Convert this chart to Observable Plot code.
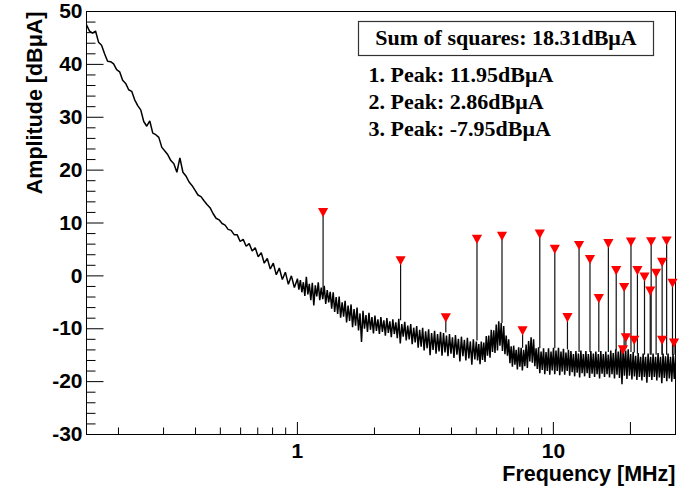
<!DOCTYPE html>
<html>
<head>
<meta charset="utf-8">
<script src="https://cdn.jsdelivr.net/npm/d3@7"></script>
<script src="https://cdn.jsdelivr.net/npm/@observablehq/plot@0.6"></script>
<style>
html, body { margin: 0; padding: 0; background: #fff; }
#chart { width: 688px; height: 487px; overflow: hidden; }
</style>
</head>
<body>
<div id="chart"></div>
<script>
// ---- Data ----
// Segment boundaries of the spectrum trace (MHz)
const segBounds = [0.15, 1, 5, 30];
// Spectrum amplitude (dBuA), 0.15 - 1 MHz
const segLowValues = [
  47.5, 46.3, 45.9, 46.3, 44.2, 43.6, 42.0, 40.6, 40.5, 40.1,
  39.0, 38.6, 37.0, 36.4, 35.2, 34.9, 33.3, 32.2, 31.4, 29.2,
  28.3, 29.3, 27.0, 26.7, 26.2, 24.3, 23.6, 22.9, 21.8, 21.2,
  19.6, 22.3, 19.6, 18.9, 17.8, 17.1, 16.2, 15.3, 15.0, 14.2,
  13.5, 12.9, 11.8, 10.9, 10.6, 9.9, 9.6, 8.8, 8.6, 7.8,
  7.8, 6.5, 6.9, 5.6, 6.1, 4.7, 5.3, 3.6, 4.4, 2.4,
  3.3, 1.3, 2.4, 0.2, 1.5, -0.7, 0.7, -1.6, 0.0, -2.2,
  -0.6
];
// Spectrum amplitude (dBuA), 1 - 5 MHz
const segMidValues = [
  -0.5, -2.6, -0.8, -3.1, -1.2, -3.8, -0.2, -3.5, -1.5, -4.6,
  -1.3, -5.6, -1.8, -3.9, -1.2, -4.6, -2.2, -4.4, -1.9, -5.3,
  -2.7, -5.0, -3.0, -6.2, -3.1, -6.8, -4.0, -7.2, -3.9, -7.9,
  -5.0, -7.7, -4.7, -8.8, -5.6, -8.5, -5.4, -9.7, -6.3, -9.4,
  -6.0, -10.3, -7.1, -12.5, -6.6, -10.0, -7.4, -10.6, -7.0, -10.2,
  -7.8, -10.9, -7.5, -10.4, -8.2, -11.0, -7.8, -10.6, -8.4, -11.3,
  -8.0, -10.8, -8.6, -11.6, -8.2, -11.0, -8.8, -11.8, -8.1, -12.8,
  -9.1, -11.5, -8.7, -12.2, -9.4, -12.0, -9.1, -12.9, -9.8, -12.6,
  -9.5, -13.6, -10.2, -13.4, -9.8, -14.1, -10.5, -13.7, -10.1, -15.0,
  -10.8, -14.0, -10.4, -14.7, -11.0, -14.3, -10.6, -15.1, -10.8, -14.5,
  -11.3, -15.2, -11.0, -14.7, -11.6, -15.5, -11.2, -14.9, -11.9, -16.2,
  -11.5, -15.2, -12.1, -16.0, -11.7, -15.6, -12.4, -16.8, -12.0, -15.8,
  -12.4
];
// Spectrum amplitude (dBuA), 5 - 30 MHz
const segHighValues = [
  -12.4, -16.0, -12.9, -16.7, -12.4, -15.9, -12.6, -16.3, -11.4, -15.1,
  -11.3, -15.5, -10.2, -14.4, -10.3, -14.6, -9.2, -14.1, -8.6, -13.2,
  -8.9, -14.2, -9.5, -14.8, -11.3, -15.1, -12.0, -16.5, -13.3, -17.2,
  -13.2, -16.8, -14.0, -17.7, -13.5, -17.2, -13.6, -17.9, -14.0, -17.1,
  -13.0, -17.4, -12.3, -16.2, -11.6, -16.4, -12.0, -17.1, -13.7, -17.6,
  -13.5, -18.4, -14.3, -17.8, -13.7, -18.6, -14.4, -18.0, -13.7, -18.7,
  -14.3, -17.9, -13.6, -18.6, -14.1, -18.0, -13.6, -18.8, -14.3, -18.1,
  -13.8, -18.7, -14.5, -18.0, -14.0, -18.9, -14.2, -18.2, -14.8, -19.0,
  -14.2, -18.3, -14.7, -19.2, -14.1, -18.4, -14.8, -19.0, -14.2, -18.4,
  -14.8, -19.3, -14.2, -18.5, -14.7, -19.1, -14.3, -18.6, -14.8, -19.4,
  -14.2, -18.5, -14.8, -19.1, -14.3, -18.6, -14.9, -19.2, -14.1, -18.6,
  -14.6, -19.4, -13.9, -18.7, -14.3, -19.3, -13.6, -20.5, -13.5, -18.9,
  -14.1, -19.5, -13.9, -18.9, -14.8, -19.6, -14.4, -19.0, -15.1, -19.7,
  -14.6, -19.1, -15.3, -19.8, -14.7, -19.1, -15.3, -20.2, -14.7, -19.1,
  -15.3, -19.7, -14.7, -19.1, -15.3, -19.8, -14.6, -19.2, -15.3, -20.3,
  -14.7, -19.3, -15.2, -19.9, -14.7, -19.4, -15.3, -20.0, -14.8, -19.5,
  -15.2
];

// Peaks found (frequency MHz, amplitude dBuA, noise floor at the peak)
const peakFreq = [1.26, 2.53, 3.8, 5.03, 6.3, 7.58, 8.85, 10.13, 11.35, 12.6,
                  13.9, 15.05, 16.4, 17.6, 18.7, 18.9, 19.2, 20.1, 20.7, 21.3,
                  22.7, 23.9, 24.1, 25.2, 26.6, 26.6, 27.7, 29.2, 29.6];
const peakAmp  = [11.95, 2.86, -7.95, 6.9, 7.5, -10.4, 7.9, 5.0, -7.9, 5.75,
                  3.1, -4.3, 6.1, 1.0, -14.0, -2.2, -11.7, 6.4, -12.2, 1.0,
                  -0.25, -2.9, 6.45, 0.5, 2.55, -12.2, 6.6, -1.4, -12.7];
const peakBase = [-2.8, -8.5, -10.8, -12.3, -9.0, -13.7, -13.8, -13.8, -14.0, -14.5,
                  -14.5, -14.5, -14.5, -14.2, -13.8, -13.8, -13.8, -14.5, -14.6, -14.8,
                  -15, -15, -15, -15, -15, -15, -15, -15, -15];

// Legend values
const sumOfSquares = 18.31;
const legendPeaks = [11.95, 2.86, -7.95];

// Axis ticks
const yMajor = [-30, -20, -10, 0, 10, 20, 30, 40, 50];
const yMinor = [-28, -26, -24, -22, -18, -16, -14, -12, -8, -6, -4, -2,
                2, 4, 6, 8, 12, 14, 16, 18, 22, 24, 26, 28, 32, 34, 36, 38, 42, 44, 46, 48];
const xMajor = [1, 10, 20];
const xMinor = [0.2, 0.3, 0.4, 0.5, 0.6, 0.7, 0.8, 0.9, 2, 3, 4, 5, 6, 7, 8, 9, 30];
const xLabels = [1, 10];

// ---- Build tables ----
function logGrid(from, to, n) {
  return d3.range(n).map(i => from * Math.pow(to / from, i / (n - 1)));
}
const segs = [segLowValues, segMidValues, segHighValues];
const trace = [];
segs.forEach((vals, s) => {
  const fs = logGrid(segBounds[s], segBounds[s + 1], vals.length);
  vals.forEach((a, i) => trace.push({f: fs[i], a}));
});
const peaks = peakFreq.map((f, i) => ({f, a: peakAmp[i], base: peakBase[i]}));
const legendLines = legendPeaks.map((v, i) => `${i + 1}. Peak: ${v.toFixed(2)}dBμA`);

const triangleDown = {
  draw(context, size) {
    const k = Math.sqrt(size / Math.PI);
    context.moveTo(-k, -0.9 * k);
    context.lineTo(k, -0.9 * k);
    context.lineTo(0, 0.9 * k);
    context.closePath();
  }
};

const sans = "'Liberation Sans', Arial, Helvetica, sans-serif";
const serif = "'Liberation Serif', 'Times New Roman', serif";

const chart = Plot.plot({
  width: 688,
  height: 487,
  marginLeft: 86,
  marginRight: 13,
  marginTop: 11,
  marginBottom: 53,
  style: {fontFamily: sans, background: "#fff", color: "#000"},
  x: {type: "log", domain: [0.15, 30]},
  y: {domain: [-30, 50]},
  marks: [
    Plot.line(trace, {x: "f", y: "a", stroke: "#000", strokeWidth: 1.5, strokeLinejoin: "miter", clip: true}),
    Plot.ruleX(peaks, {x: "f", y1: "base", y2: "a", stroke: "#111", strokeWidth: 1.2}),
    Plot.axisY(yMajor, {tickSize: 17.5, dx: 17.5, fill: "none", label: null}),
    Plot.axisY(yMinor, {tickSize: 9.5, dx: 9.5, fill: "none", label: null}),
    Plot.axisY(yMajor, {tickSize: 0, tickPadding: 4, fontSize: 21, fontWeight: "bold",
      tickFormat: d => String(d), label: null}),
    Plot.axisX(xMajor, {tickSize: 12, dy: -12, fill: "none", label: null}),
    Plot.axisX(xMinor, {tickSize: 6.5, dy: -6.5, fill: "none", label: null}),
    Plot.axisX(xLabels, {tickSize: 0, tickPadding: 9, fontSize: 21, fontWeight: "bold",
      tickFormat: d => String(d), label: null}),
    Plot.frame({stroke: "#000"}),
    Plot.dot(peaks, {x: "f", y: "a", symbol: triangleDown, r: 5.1, fill: "#ff0000", stroke: "none"}),
    Plot.text(["Frequency [MHz]"], {text: d => d, frameAnchor: "bottom-right", dy: 46,
      textAnchor: "end", lineAnchor: "bottom", fontSize: 21.5, fontWeight: "bold"}),
    Plot.text(["Amplitude [dBμA]"], {text: d => d, frameAnchor: "top-left", dx: -44.5, dy: 0,
      rotate: -90, textAnchor: "end", lineAnchor: "bottom", fontSize: 21.5, fontWeight: "bold"}),
    Plot.frame({insetLeft: 272, insetRight: 22, insetTop: 10, insetBottom: 379,
      stroke: "#333", strokeWidth: 1.2, fill: "#fff"}),
    Plot.text([`Sum of squares: ${sumOfSquares.toFixed(2)}dBμA`], {text: d => d,
      frameAnchor: "top-left", dx: 419.5, dy: 33.3, textAnchor: "middle", lineAnchor: "bottom",
      fontFamily: serif, fontWeight: "bold", fontSize: 22}),
    Plot.text([legendLines.join("\n")], {text: d => d, frameAnchor: "top-left", dx: 282, dy: 124,
      textAnchor: "start", lineAnchor: "bottom", lineHeight: 1.2136,
      fontFamily: serif, fontWeight: "bold", fontSize: 22})
  ]
});
document.getElementById("chart").appendChild(chart);
</script>
</body>
</html>
